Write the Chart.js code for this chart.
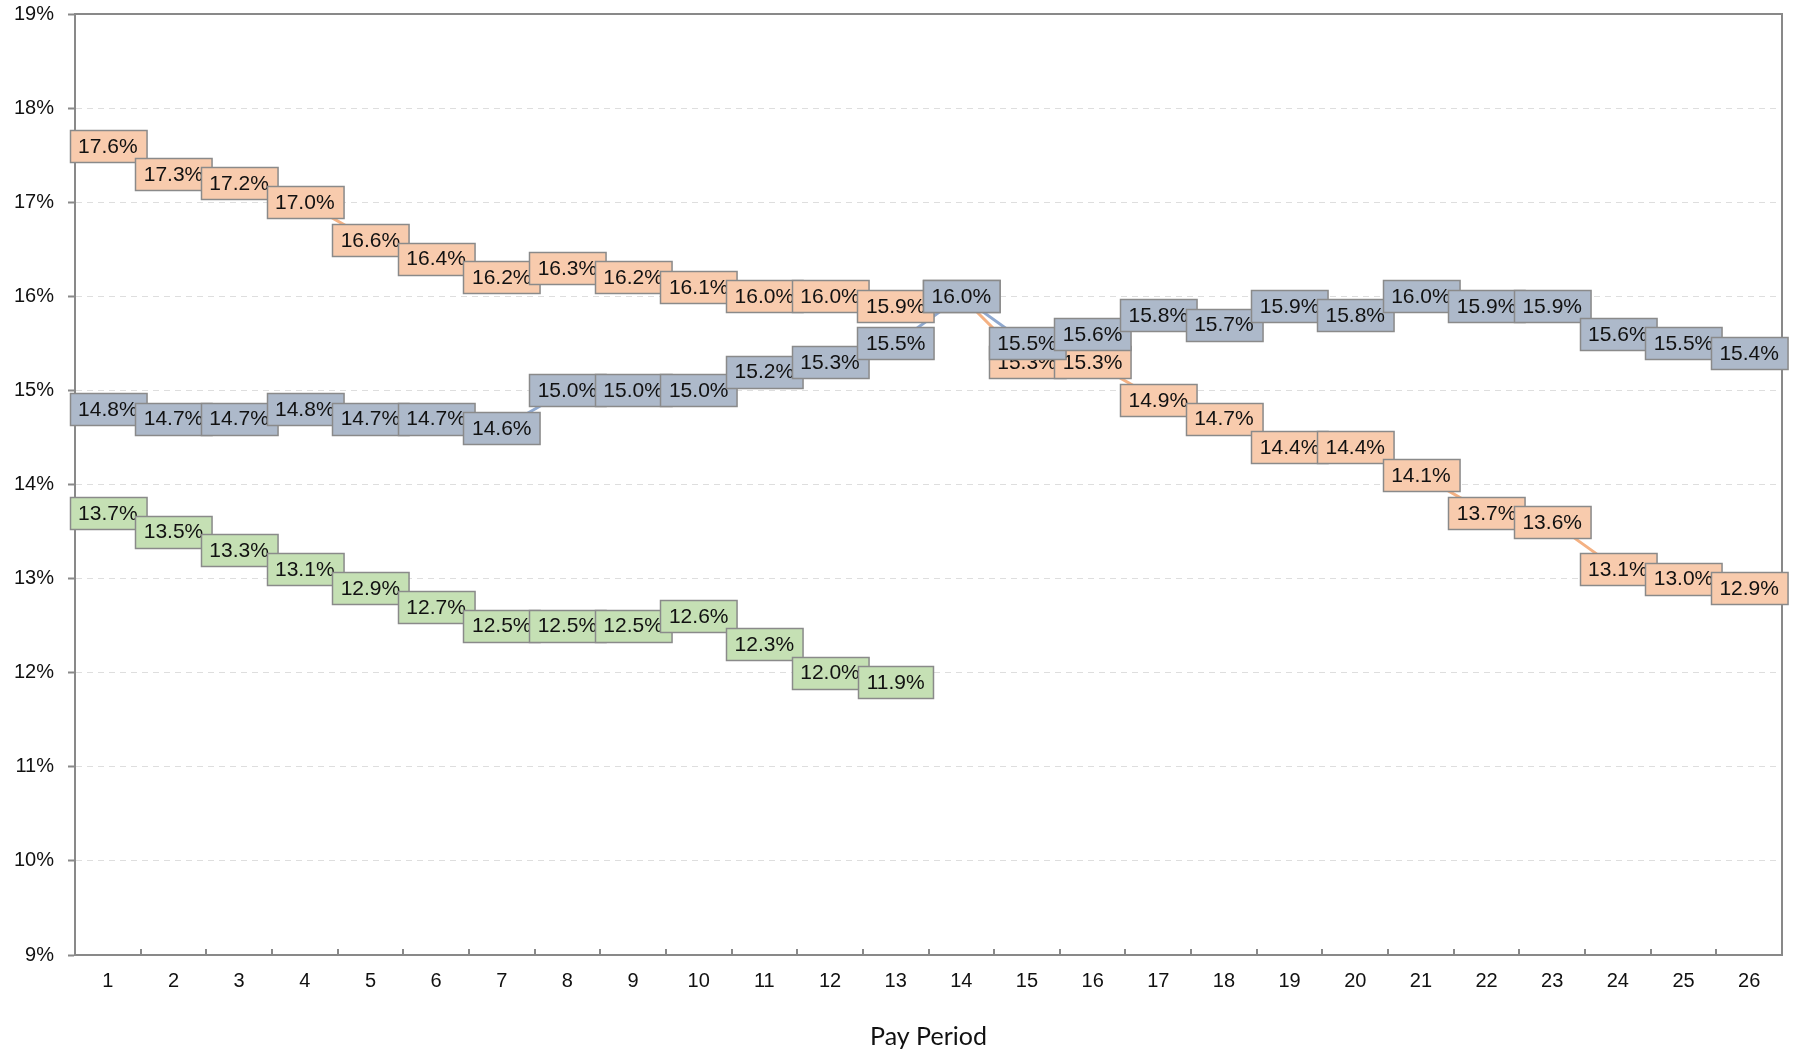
<!DOCTYPE html>
<html>
<head>
<meta charset="utf-8">
<script src="https://cdn.jsdelivr.net/npm/chart.js@4.4.1/dist/chart.umd.min.js"></script>
<style>
  html, body { margin: 0; padding: 0; background: #fff; }
  #wrap { width: 1793px; height: 1053px; }
</style>
</head>
<body>
<div id="wrap"><canvas id="chart"></canvas></div>
<script>
  // pay periods 1..26
  const periods = ["1","2","3","4","5","6","7","8","9","10","11","12","13",
                   "14","15","16","17","18","19","20","21","22","23","24","25","26"];

  // orange series
  const orangeVals = [17.6, 17.3, 17.2, 17.0, 16.6, 16.4, 16.2, 16.3, 16.2, 16.1, 16.0, 16.0, 15.9,
                      16.0, 15.3, 15.3, 14.9, 14.7, 14.4, 14.4, 14.1, 13.7, 13.6, 13.1, 13.0, 12.9];
  // blue-gray series
  const blueVals = [14.8, 14.7, 14.7, 14.8, 14.7, 14.7, 14.6, 15.0, 15.0, 15.0, 15.2, 15.3, 15.5,
                    16.0, 15.5, 15.6, 15.8, 15.7, 15.9, 15.8, 16.0, 15.9, 15.9, 15.6, 15.5, 15.4];
  // green series (only first 13 periods)
  const greenVals = [13.7, 13.5, 13.3, 13.1, 12.9, 12.7, 12.5, 12.5, 12.5, 12.6, 12.3, 12.0, 11.9];

  const yMin = 9;
  const yMax = 19;

  const axisGray = "#898989";
  const sansFamily = "Arial, 'Liberation Sans', Arimo, Helvetica, sans-serif";
  const labelFont = "21px " + sansFamily;

  // boxed value labels, drawn over all lines
  const boxLabels = {
    id: "boxLabels",
    afterDatasetsDraw(chart) {
      const ctx = chart.ctx;
      ctx.save();
      ctx.font = labelFont;
      ctx.textAlign = "center";
      ctx.textBaseline = "middle";
      chart.data.datasets.forEach((ds, di) => {
        const meta = chart.getDatasetMeta(di);
        meta.data.forEach((pt, i) => {
          const v = ds.data[i];
          if (v == null) return;
          const txt = v.toFixed(1) + "%";
          const w = ctx.measureText(txt).width + 17;
          const h = 32;
          const x = Math.round(pt.x - w / 2) + 0.5;
          const y = Math.round(pt.y - h / 2) + 0.5;
          ctx.fillStyle = ds.boxColor;
          ctx.fillRect(x, y, w, h);
          ctx.lineWidth = 1.5;
          ctx.strokeStyle = "#8a8a8a";
          ctx.strokeRect(x, y, w, h);
          ctx.fillStyle = "#111";
          ctx.fillText(txt, pt.x, pt.y + 1);
        });
      });
      ctx.restore();
    }
  };

  // top/right frame and inside tick marks on the category axis
  const frame = {
    id: "frame",
    beforeDatasetsDraw(chart) {
      const { ctx, chartArea } = chart;
      const xs = chart.scales.x;
      ctx.save();
      ctx.strokeStyle = axisGray;
      ctx.lineWidth = 2;
      ctx.beginPath();
      ctx.moveTo(chartArea.left, chartArea.top);
      ctx.lineTo(chartArea.right, chartArea.top);
      ctx.lineTo(chartArea.right, chartArea.bottom);
      ctx.stroke();
      ctx.beginPath();
      for (let i = 0; i < periods.length - 1; i++) {
        const px = Math.round((xs.getPixelForTick(i) + xs.getPixelForTick(i + 1)) / 2);
        ctx.moveTo(px, chartArea.bottom);
        ctx.lineTo(px, chartArea.bottom - 6);
      }
      ctx.stroke();
      ctx.restore();
    }
  };

  new Chart(document.getElementById("chart"), {
    type: "line",
    data: {
      labels: periods,
      datasets: [
        { data: orangeVals, borderColor: "#F4B183", boxColor: "#F8CBAD" },
        { data: blueVals, borderColor: "#8FA9D0", boxColor: "#ADB9CA" },
        { data: greenVals, borderColor: "#A9D18E", boxColor: "#C5E0B4" }
      ].map(d => Object.assign(d, { borderWidth: 3, pointRadius: 0, tension: 0, fill: false }))
    },
    options: {
      responsive: true,
      maintainAspectRatio: false,
      animation: false,
      layout: { padding: { top: 14, right: 11, left: 0, bottom: 0 } },
      plugins: {
        legend: { display: false },
        tooltip: { enabled: false }
      },
      scales: {
        x: {
          offset: true,
          grid: { display: true, drawOnChartArea: false, drawTicks: false, offset: true },
          border: { display: true, color: axisGray, width: 2 },
          ticks: {
            padding: 14,
            color: "#111",
            font: { family: sansFamily, size: 20 },
            maxRotation: 0,
            autoSkip: false
          },
          title: {
            display: true,
            text: "Pay Period",
            color: "#111",
            font: { family: "'Century Gothic', 'URW Gothic', Lato, sans-serif", size: 25 },
            padding: { top: 0, bottom: 1 }
          },
          afterFit(scale) { scale.height = 98; }
        },
        y: {
          min: yMin,
          max: yMax,
          grid: {
            color: "#dedede",
            lineWidth: 1,
            tickColor: axisGray,
            tickLength: 7,
            tickWidth: 2
          },
          border: { display: true, color: axisGray, width: 2, dash: [6, 5] },
          ticks: {
            stepSize: 1,
            padding: 14,
            color: "#111",
            font: { family: sansFamily, size: 20 },
            callback: v => v + "%"
          },
          afterFit(scale) {
            scale.width = 75;
            // let layout.padding decide the top edge
            scale.paddingTop = 0;
            scale.paddingBottom = 0;
          }
        }
      }
    },
    plugins: [frame, boxLabels]
  });
</script>
</body>
</html>
